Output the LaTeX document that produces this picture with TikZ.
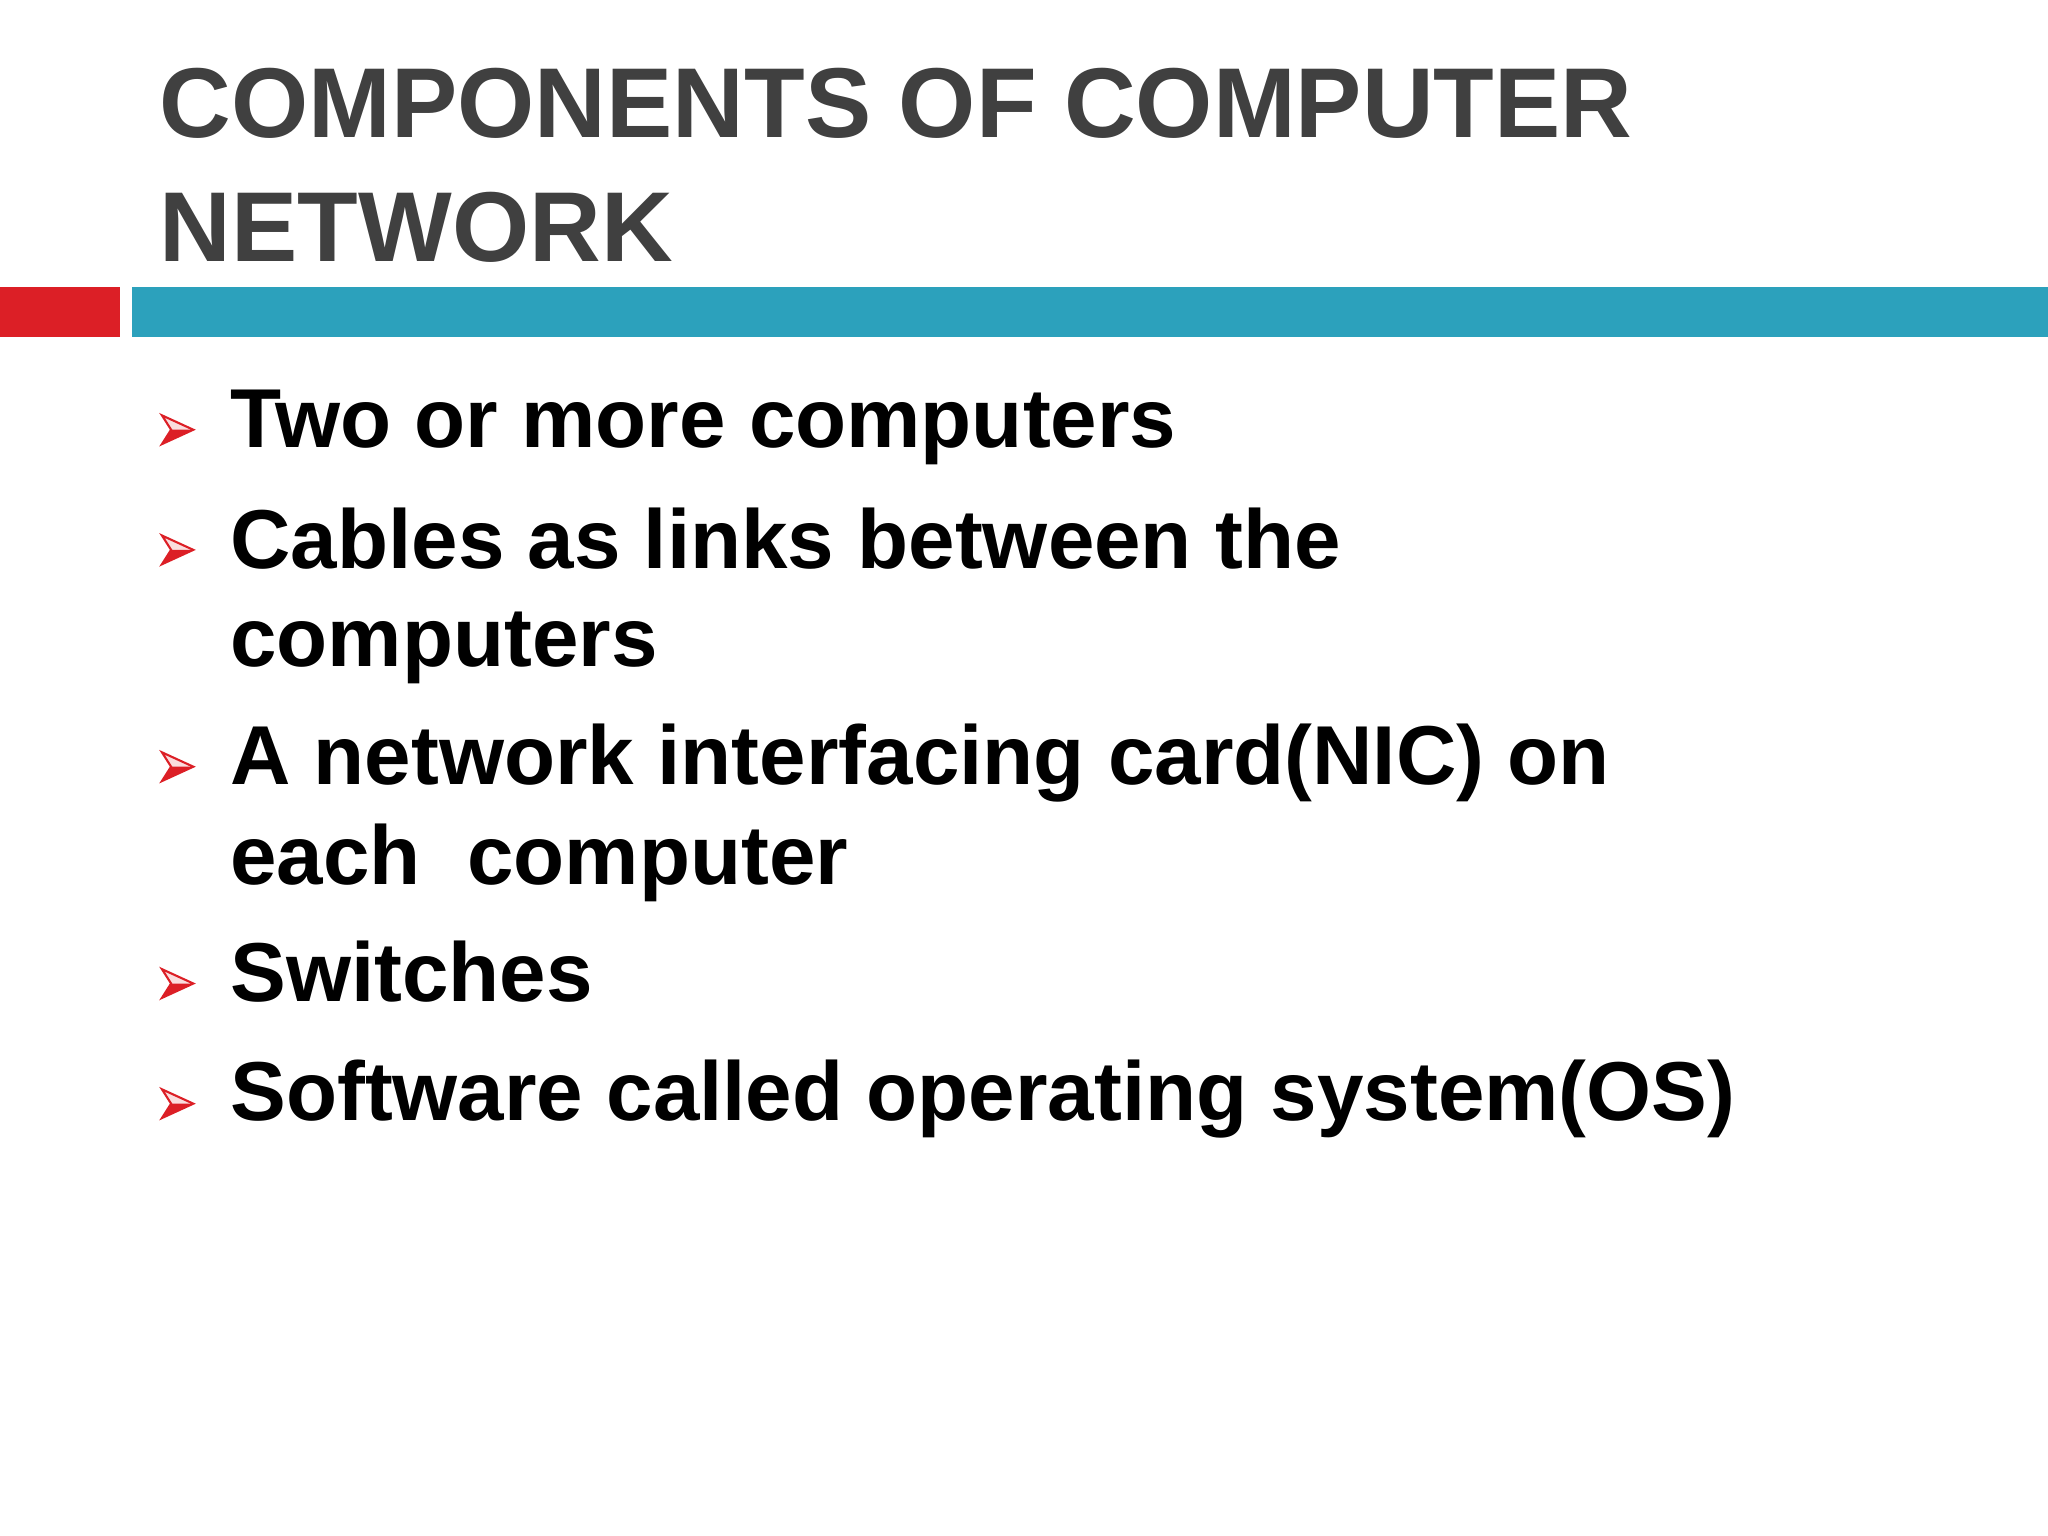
\documentclass[tikz,border=0pt]{standalone}
\usepackage{fontspec}
\setmainfont{Liberation Sans}
\definecolor{teal1}{HTML}{2CA1BC}
\definecolor{red1}{HTML}{DC1F26}
\definecolor{title}{HTML}{404040}
\begin{document}
\begin{tikzpicture}[x=0.5pt,y=-0.5pt,
  txt/.style={anchor=base west,inner sep=0,font=\fontsize{32}{38}\selectfont\bfseries},
  ttl/.style={anchor=base west,inner sep=0,text=title,font=\fontsize{38}{46}\selectfont\bfseries}]
\useasboundingbox (0,0) rectangle (1568,1176);
\fill[white] (0,0) rectangle (1568,1176);
\node[ttl] (t1) at (122,105) {COMPONENTS OF COMPUTER};
\node[ttl] (t2) at (122,200) {NETWORK};
\fill[red1] (0,220) rectangle (92,258);
\fill[teal1] (101,220) rectangle (1568,258);
\foreach \y in {329,421,587,753,845}{
  \draw[red1,line width=0.8pt,line join=miter,fill=red1!15] (124,\y-11) -- (148,\y) -- (124,\y+11) -- (131,\y) -- cycle;
  \fill[red1] (124,\y+11) -- (148,\y) -- (131,\y) -- cycle;
}
\node[txt] (b1) at (176,343) {Two or more computers};
\node[txt] (b2) at (176,435) {Cables as links between the};
\node[txt] (b2b) at (176,510) {computers};
\node[txt] (b3) at (176,601) {A network interfacing card(NIC) on};
\node[txt] (b3b) at (176,677) {each\ \ computer};
\node[txt] (b4) at (176,767) {Switches};
\node[txt] (b5) at (176,858) {Software called operating system(OS)};
\end{tikzpicture}
\end{document}
